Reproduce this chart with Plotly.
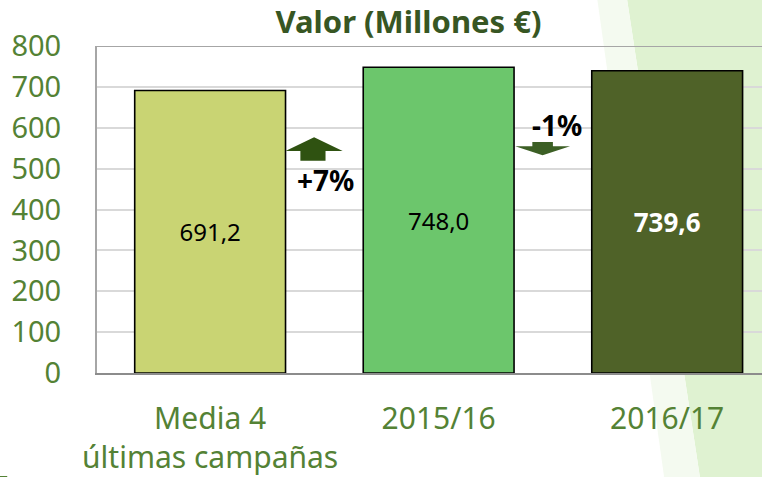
import plotly.graph_objects as go

categories = ["Media 4<br>últimas campañas", "2015/16", "2016/17"]
values = [691.2, 748.0, 739.6]
value_labels = ["691,2", "748,0", "739,6"]
bar_colors = ["#C9D473", "#6CC66C", "#4F6228"]
label_colors = ["#000000", "#000000", "#FFFFFF"]
label_bold = [False, False, True]
changes = ["+7%", "-1%"]
y_ticks = [0, 100, 200, 300, 400, 500, 600, 700, 800]

FONT = "Noto Sans"
GREEN = "#548235"

texts = [f"<b>{t}</b>" if b else t for t, b in zip(value_labels, label_bold)]

fig = go.Figure()
fig.add_trace(go.Bar(
    x=categories, y=values,
    marker=dict(color=bar_colors, line=dict(color="#000000", width=1.6)),
    width=0.66,
    text=texts, textposition="inside", insidetextanchor="middle",
    textfont=dict(family=FONT, size=[24, 24, 26], color=label_colors),
    constraintext="none", cliponaxis=False,
    hoverinfo="skip",
))

shapes = []
# background decoration (light green diagonal band at right)
shapes.append(dict(type="path", xref="paper", yref="paper", layer="below",
                   path="M 0.789,1.25 L 0.909,-0.35 L 1.05,-0.35 L 1.05,1.25 Z",
                   fillcolor="#DFF2D1", line=dict(width=0)))
shapes.append(dict(type="path", xref="paper", yref="paper", layer="below",
                   path="M 0.745,1.25 L 0.855,-0.35 L 0.909,-0.35 L 0.789,1.25 Z",
                   fillcolor="#F4FAF0", line=dict(width=0)))

# up arrow between categories 0 and 1
up = dict(xl=0.33, xr=0.58, sl=0.395, sr=0.505, top=577, base=543, bottom=519)
shapes.append(dict(type="path", xref="x", yref="y",
    path=(f"M {up['xl']},{up['base']} L {(up['xl']+up['xr'])/2},{up['top']} L {up['xr']},{up['base']} "
          f"L {up['sr']},{up['base']} L {up['sr']},{up['bottom']} L {up['sl']},{up['bottom']} "
          f"L {up['sl']},{up['base']} Z"),
    fillcolor="#2F5211", line=dict(width=0)))
# down arrow between categories 1 and 2
dn = dict(xl=1.335, xr=1.575, sl=1.41, sr=1.50, top=565, base=555, tip=533)
shapes.append(dict(type="path", xref="x", yref="y",
    path=(f"M {dn['sl']},{dn['top']} L {dn['sr']},{dn['top']} L {dn['sr']},{dn['base']} "
          f"L {dn['xr']},{dn['base']} L {(dn['xl']+dn['xr'])/2},{dn['tip']} L {dn['xl']},{dn['base']} "
          f"L {dn['sl']},{dn['base']} Z"),
    fillcolor="#3C5F25", line=dict(width=0)))
# small green mark at bottom left
shapes.append(dict(type="rect", xref="paper", yref="paper",
                   x0=-0.15, x1=-0.135, y0=-0.33, y1=-0.315,
                   fillcolor=GREEN, line=dict(width=0)))

annotations = [
    dict(x=0.503, y=472, xref="x", yref="y", text=f"<b>{changes[0]}</b>", showarrow=False,
         font=dict(family=FONT, size=28, color="#000000")),
    dict(x=1.52, y=607, xref="x", yref="y", text=f"<b>{changes[1]}</b>", showarrow=False,
         font=dict(family=FONT, size=28, color="#000000")),
]

fig.update_layout(
    width=762, height=477,
    margin=dict(l=97, r=0, t=46, b=104),
    paper_bgcolor="#FFFFFF", plot_bgcolor="rgba(0,0,0,0)",
    showlegend=False,
    title=dict(text="<b>Valor (Millones €)</b>", x=0.536, xanchor="center",
               y=0.953, yanchor="middle",
               font=dict(family=FONT, size=31, color="#375623")),
    shapes=shapes, annotations=annotations,
    font=dict(family=FONT),
)
fig.update_xaxes(range=[-0.495, 2.415], showgrid=False,
                 showline=True, linecolor="#8C8C8C", linewidth=2,
                 tickfont=dict(family=FONT, size=30, color=GREEN),
                 ticks="", ticklabelstandoff=18)
fig.update_yaxes(range=[0, 800], tickvals=y_ticks, showgrid=True,
                 gridcolor="#D9D9D9", gridwidth=1.5,
                 showline=True, linecolor="#A6A6A6", linewidth=2,
                 zeroline=False,
                 tickfont=dict(family=FONT, size=29, color=GREEN),
                 ticks="", ticklabelstandoff=28)
# darker top border line (at 800)
fig.add_shape(type="line", xref="paper", yref="y", x0=0, x1=1, y0=800, y1=800,
              line=dict(color="#A6A6A6", width=2), layer="below")

fig.write_html("out.html", config={"displayModeBar": False},
               post_script="document.body.style.margin='0';")
